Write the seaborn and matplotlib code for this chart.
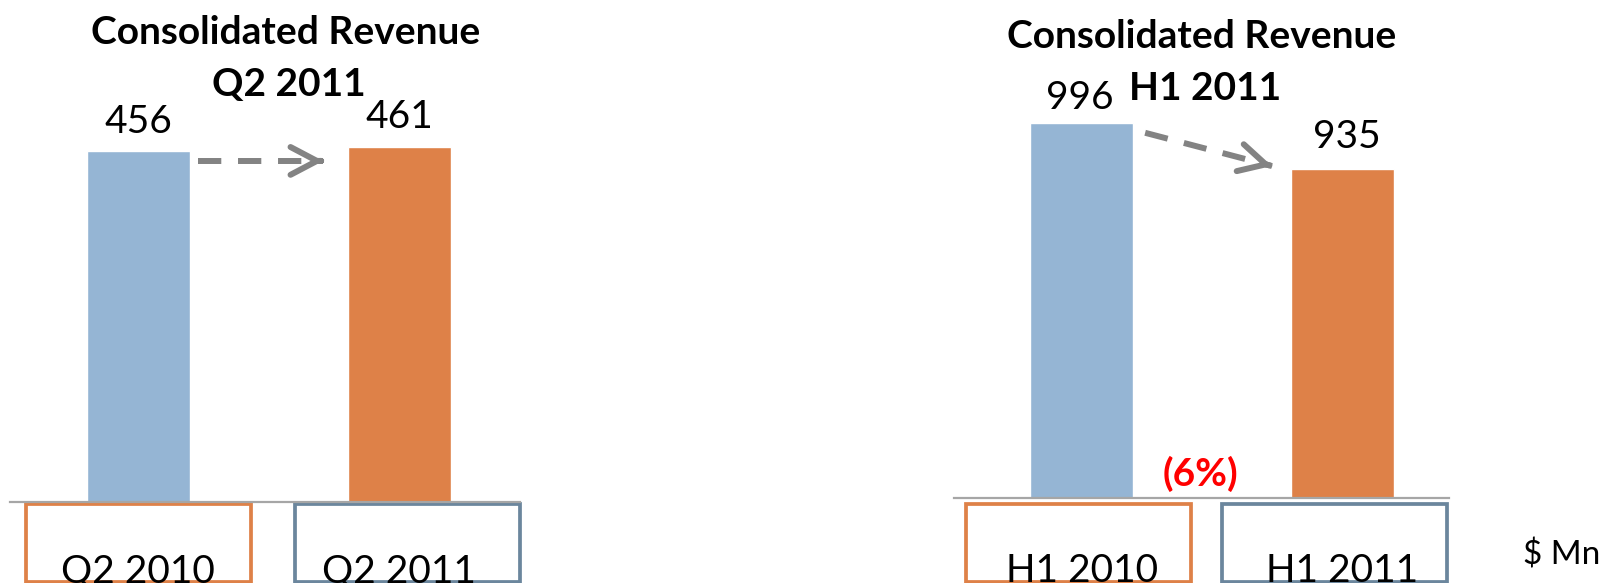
import matplotlib
matplotlib.use("Agg")
import matplotlib.pyplot as plt
import matplotlib.transforms as mtransforms
from matplotlib.patches import Rectangle
import seaborn as sns

# ---------------- data ----------------
q_periods = ["Q2 2010", "Q2 2011"]
q_revenue = [456, 461]
h_periods = ["H1 2010", "H1 2011"]
h_revenue = [996, 935]
q_title = ["Consolidated Revenue", "Q2 2011"]
h_title = ["Consolidated Revenue", "H1 2011"]
h_change = "(6%)"
unit_label = "$ Mn"

# ---------------- style ----------------
sns.set_theme(style="white")
plt.rcParams["font.family"] = ["Lato", "DejaVu Sans"]

BLUE = "#95B5D4"
ORANGE = "#DE8148"
BOXBLUE = "#6B869D"
GREY_ARROW = "#838383"
BASE = "#A6A6A6"

W, H = 1604, 583
fig = plt.figure(figsize=(W / 100, H / 100), dpi=100)
fig.patch.set_facecolor("white")


def fpos(x, y):
    return x / W, 1 - y / H


def make_axes(left, right, base_y):
    return fig.add_axes([left / W, (H - base_y) / H, (right - left) / W, base_y / H])


BAR_W = 0.395

panels = [
    dict(ax=make_axes(10, 520, 502), periods=q_periods, values=q_revenue,
         xlim=(-0.492, 1.462), ylim=(0, 652), title=q_title,
         title_x=[286, 289], title_y=[44, 96],
         label_dy=[18, 19], label_dx=[0, 0],
         box_shift=[0.0, 0.03],
         arrow=dict(dx0=0.03, dx1=-0.094, dy0=-13, dy1=-18)),
    dict(ax=make_axes(954, 1449, 498), periods=h_periods, values=h_revenue,
         xlim=(-0.489, 1.408), ylim=(499, 1159), title=h_title,
         title_x=[1202, 1205], title_y=[48, 100],
         label_dy=[14, 21], label_dx=[-2, 4],
         box_shift=[-0.012, -0.03],
         arrow=dict(dx0=0.046, dx1=-0.073, dy0=-13, dy1=4)),
]

for p in panels:
    ax = p["ax"]
    sns.barplot(x=p["periods"], y=p["values"], hue=p["periods"],
                palette=[BLUE, ORANGE], width=BAR_W, saturation=1,
                legend=False, ax=ax)
    ax.set_xlim(*p["xlim"])
    ax.set_ylim(*p["ylim"])
    ax.set_xticks([])
    ax.set_yticks([])
    ax.set_xlabel("")
    ax.set_ylabel("")
    ax.set_facecolor("none")
    for s in ["top", "left", "right"]:
        ax.spines[s].set_visible(False)
    ax.spines["bottom"].set_color(BASE)
    ax.spines["bottom"].set_linewidth(1.6)

    # value labels
    for i, v in enumerate(p["values"]):
        ax.annotate(str(v), xy=(i, v), xytext=(p["label_dx"][i] * 0.72, p["label_dy"][i] * 0.72),
                    textcoords="offset points", ha="center", va="baseline",
                    fontsize=28, color="black")

    # period boxes + labels under the axis
    trans = mtransforms.blended_transform_factory(ax.transData, fig.transFigure)
    box_w = 0.862
    for i, lab in enumerate(p["periods"]):
        c = i + p["box_shift"][i]
        rect = Rectangle((c - box_w / 2, 1 - 581.5 / H), box_w, (581.5 - 503.5) / H,
                         transform=trans, clip_on=False, fill=False,
                         edgecolor=ORANGE if i == 0 else BOXBLUE, linewidth=2.7)
        ax.add_artist(rect)
        ax.text(i, 1 - 582 / H, lab, transform=trans, ha="center", va="baseline",
                fontsize=28, color="black", clip_on=False)

    # dashed arrow between bars
    a = p["arrow"]
    v0, v1 = p["values"]
    x0, y0 = 0 + BAR_W / 2 + a["dx0"], v0 + a["dy0"]
    x1, y1 = 1 - BAR_W / 2 + a["dx1"], v1 + a["dy1"]
    ax.plot([x0, x1], [y0, y1], color=GREY_ARROW, lw=4.3,
            dashes=[3.9, 2.8], solid_capstyle="butt")
    ax.annotate("", xy=(x1, y1), xytext=(x1 - 0.02 * (x1 - x0), y1 - 0.02 * (y1 - y0)),
                arrowprops=dict(arrowstyle="->,head_length=0.95,head_width=0.5",
                                color=GREY_ARROW, lw=4.3, shrinkA=0, shrinkB=0,
                                mutation_scale=20, joinstyle="round", capstyle="round"))

    # titles
    for k, t in enumerate(p["title"]):
        fig.text(*fpos(p["title_x"][k], p["title_y"][k]), t, ha="center", va="baseline",
                 fontsize=28, fontweight="bold", color="black")

# change annotation and unit
fig.text(*fpos(1201, 474), h_change, ha="center", va="center",
         fontsize=28, fontweight="bold", color="#FF0000")
fig.text(*fpos(1523, 565), unit_label, ha="left", va="baseline",
         fontsize=24, color="black")

fig.savefig("out.png", dpi=100, facecolor="white")
